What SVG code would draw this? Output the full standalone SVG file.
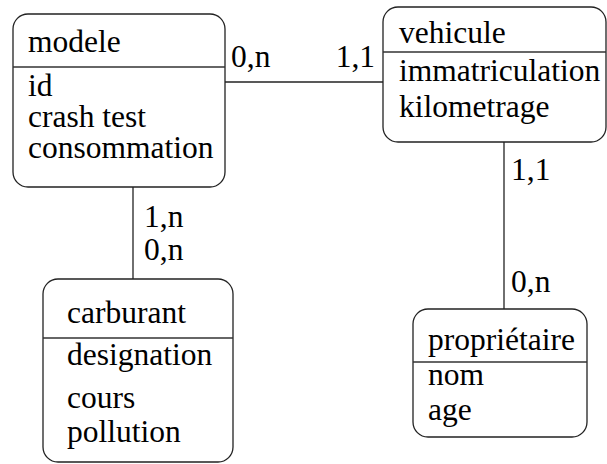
<svg xmlns="http://www.w3.org/2000/svg" width="607" height="464" viewBox="0 0 607 464">
<style>
.box{fill:#fff;stroke:#222;stroke-width:1.3}
.div{stroke:#333;stroke-width:1.3}
.ln{stroke:#222;stroke-width:1.3;fill:none}
text{font-family:"Liberation Serif","Times New Roman",serif;font-size:31.5px;fill:#000}
</style>
<rect width="607" height="464" fill="#fff"/>
<g id="connectors">
<line class="ln" x1="225" y1="82" x2="383" y2="82"/>
<line class="ln" x1="133" y1="187" x2="133" y2="279"/>
<line class="ln" x1="504" y1="142" x2="504" y2="309"/>
<text x="231" y="67">0,n</text>
<text x="375" y="67" text-anchor="end">1,1</text>
<text x="144" y="227">1,n</text>
<text x="144" y="260">0,n</text>
<text x="511" y="180">1,1</text>
<text x="511" y="292">0,n</text>
</g>
<g id="modele">
<rect class="box" x="13" y="14" width="212" height="173" rx="15"/>
<line class="div" x1="13" y1="67" x2="225" y2="67"/>
<text x="28" y="52">modele</text>
<text x="28" y="96">id</text>
<text x="28" y="127">crash test</text>
<text x="28" y="158">consommation</text>
</g>
<g id="vehicule">
<rect class="box" x="383" y="7" width="223" height="135" rx="15"/>
<line class="div" x1="383" y1="52" x2="606" y2="52"/>
<text x="399" y="43">vehicule</text>
<text x="399" y="81">immatriculation</text>
<text x="399" y="117">kilometrage</text>
</g>
<g id="carburant">
<rect class="box" x="43" y="279" width="190" height="183" rx="15"/>
<line class="div" x1="43" y1="338" x2="233" y2="338"/>
<text x="67" y="323">carburant</text>
<text x="67" y="365">designation</text>
<text x="67" y="408">cours</text>
<text x="67" y="442">pollution</text>
</g>
<g id="proprietaire">
<rect class="box" x="413" y="309" width="174" height="128" rx="15"/>
<line class="div" x1="413" y1="362" x2="587" y2="362"/>
<text x="428" y="350">propriétaire</text>
<text x="428" y="385">nom</text>
<text x="428" y="420">age</text>
</g>
</svg>
